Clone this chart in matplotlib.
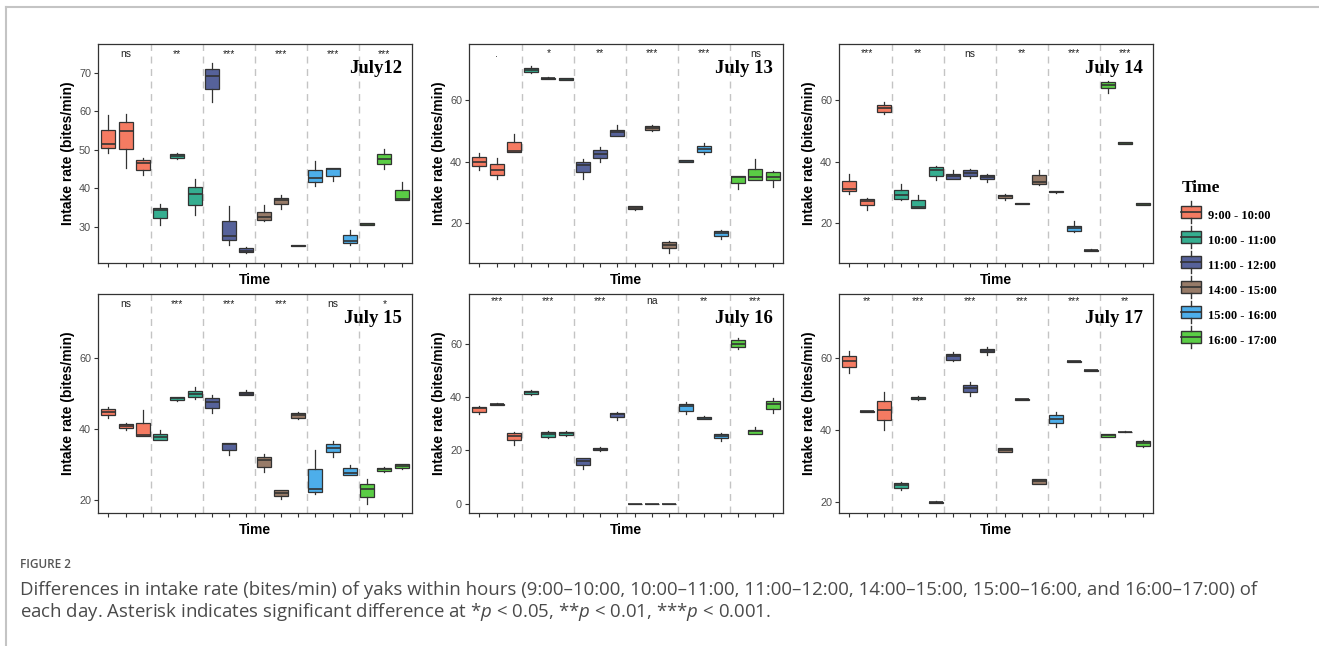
import matplotlib
matplotlib.use("Agg")
import matplotlib.pyplot as plt
from matplotlib.patches import Patch, Rectangle
from matplotlib.lines import Line2D
from matplotlib.legend_handler import HandlerBase

# five-number summaries per box: (whislo, q1, med, q3, whishi)
# 18 boxes per day = 6 hours x 3 yaks
hours = ["9:00 - 10:00", "10:00 - 11:00", "11:00 - 12:00",
         "14:00 - 15:00", "15:00 - 16:00", "16:00 - 17:00"]
colors = ["#F57B62", "#35AE90", "#56629A", "#977B68", "#4DAEEA", "#5ACD45"]

days = ["July12", "July 13", "July 14", "July 15", "July 16", "July 17"]

july12 = [(49.3, 50.4, 51.4, 55.2, 59.0), (45.4, 50.1, 54.9, 57.2, 59.3), (43.5, 44.8, 46.5, 47.3, 48.0),
          (30.4, 32.4, 34.3, 35.0, 35.8), (47.5, 47.9, 48.4, 48.9, 49.3), (33.0, 35.7, 38.5, 40.4, 42.3),
          (62.5, 65.7, 69.3, 71.0, 72.5), (25.4, 26.5, 27.7, 31.5, 35.4), (23.2, 23.4, 23.8, 24.4, 24.7),
          (31.6, 31.9, 32.6, 33.9, 35.6), (34.7, 35.9, 36.9, 37.6, 38.2), (24.9, 25.0, 25.1, 25.2, 25.3),
          (40.7, 41.6, 42.8, 44.8, 47.2), (42.0, 43.3, 45.0, 45.3, 45.4), (25.4, 25.8, 26.4, 28.0, 29.1),
          (30.5, 30.6, 30.8, 30.9, 31.0), (45.1, 46.3, 47.7, 48.9, 50.3), (37.0, 37.0, 37.3, 39.5, 41.6)]
july13 = [(37.4, 38.5, 39.9, 41.5, 42.9), (34.5, 35.7, 37.4, 39.2, 41.3), (43.3, 43.3, 43.5, 46.3, 49.1),
          (68.7, 69.1, 69.8, 70.4, 71.1), (66.8, 66.9, 67.1, 67.3, 67.4), (66.6, 66.7, 67.0, 67.2, 67.3),
          (34.5, 36.6, 39.0, 39.8, 40.7), (39.8, 41.1, 42.5, 43.7, 44.8), (48.4, 48.4, 49.6, 50.2, 51.8),
          (24.2, 24.6, 25.0, 25.5, 25.6), (50.0, 50.4, 51.1, 51.5, 51.8), (10.2, 12.0, 12.8, 13.8, 14.1),
          (39.9, 40.0, 40.2, 40.4, 40.5), (42.4, 43.2, 44.2, 45.0, 46.1), (14.7, 15.8, 16.7, 17.4, 17.8),
          (31.1, 33.0, 35.0, 35.4, 35.4), (34.1, 34.1, 35.0, 37.7, 40.7), (31.7, 34.1, 35.0, 36.7, 37.0)]
july14 = [(29.6, 30.4, 31.2, 33.7, 35.9), (24.3, 25.8, 27.2, 27.8, 28.0), (55.4, 56.2, 57.6, 58.6, 59.5),
          (27.6, 27.9, 29.3, 30.7, 32.8), (25.0, 25.0, 25.2, 27.4, 29.2), (33.9, 35.4, 37.2, 38.2, 38.7),
          (34.5, 34.5, 35.3, 35.9, 37.2), (34.6, 35.4, 36.4, 37.2, 37.7), (33.5, 34.2, 35.0, 35.7, 36.1),
          (27.4, 28.3, 28.8, 29.3, 29.6), (26.1, 26.2, 26.3, 26.5, 26.6), (32.5, 32.8, 33.4, 35.5, 37.2),
          (29.9, 30.0, 30.1, 30.3, 30.4), (17.1, 17.4, 18.5, 19.1, 20.7), (10.8, 10.9, 11.1, 11.3, 11.4),
          (62.5, 64.0, 65.1, 66.0, 66.3), (45.8, 45.9, 46.1, 46.3, 46.4), (25.9, 26.0, 26.2, 26.4, 26.5)]
july15 = [(43.0, 43.9, 44.8, 45.6, 46.1), (39.6, 40.2, 40.9, 41.3, 41.6), (38.1, 38.1, 38.3, 41.8, 45.2),
          (36.9, 36.9, 37.8, 38.7, 39.6), (47.8, 48.0, 48.6, 48.9, 49.0), (48.4, 49.0, 49.9, 50.6, 51.9),
          (44.5, 46.0, 47.6, 48.6, 49.5), (32.8, 34.2, 35.8, 36.0, 36.2), (49.5, 49.5, 49.9, 50.3, 50.8),
          (28.0, 29.4, 31.4, 32.2, 33.1), (20.5, 21.2, 22.2, 22.8, 23.0), (42.8, 43.2, 43.9, 44.6, 44.8),
          (21.9, 22.4, 23.3, 28.7, 34.2), (32.2, 33.6, 34.7, 35.7, 36.6), (27.2, 27.2, 27.8, 29.1, 29.9),
          (19.1, 21.1, 23.3, 24.7, 26.1), (28.0, 28.2, 28.9, 29.2, 29.4), (28.7, 29.0, 29.7, 30.1, 30.3)]
july16 = [(33.5, 34.5, 35.8, 36.4, 36.8), (37.1, 37.2, 37.4, 37.5, 37.6), (22.2, 23.9, 25.5, 26.4, 27.0),
          (40.8, 41.1, 41.8, 42.3, 42.7), (24.5, 25.1, 26.1, 27.0, 27.4), (25.5, 25.7, 26.4, 27.0, 27.4),
          (13.2, 14.5, 16.1, 17.0, 17.2), (19.9, 20.2, 20.7, 21.0, 21.2), (31.5, 32.5, 33.5, 34.2, 34.5),
          (0.0, 0.0, 0.0, 0.0, 0.0), (0.0, 0.0, 0.0, 0.0, 0.0), (0.0, 0.0, 0.0, 0.0, 0.0),
          (33.5, 34.9, 36.8, 37.4, 38.0), (31.6, 31.9, 32.3, 32.6, 33.0), (23.5, 24.5, 25.5, 26.1, 26.4),
          (58.1, 58.9, 59.9, 61.3, 62.1), (26.2, 26.2, 27.4, 27.8, 28.6), (34.0, 35.5, 37.4, 38.5, 39.8)]
july17 = [(55.9, 57.4, 59.2, 60.5, 61.8), (45.0, 45.1, 45.2, 45.3, 45.4), (40.1, 42.7, 45.5, 48.0, 50.6),
          (23.5, 23.9, 24.7, 25.3, 25.6), (48.2, 48.5, 48.9, 49.2, 49.3), (19.8, 19.9, 20.0, 20.1, 20.2),
          (59.0, 59.5, 60.4, 61.0, 61.6), (49.4, 50.4, 51.6, 52.6, 53.4), (60.8, 61.5, 62.0, 62.4, 62.9),
          (33.9, 33.9, 34.5, 34.9, 35.0), (48.2, 48.3, 48.5, 48.6, 48.7), (24.9, 25.1, 25.8, 26.3, 26.5),
          (40.9, 42.0, 43.0, 44.1, 45.1), (58.9, 58.95, 59.0, 59.05, 59.1), (56.4, 56.45, 56.5, 56.55, 56.6),
          (38.1, 38.1, 38.6, 38.9, 39.0), (39.4, 39.45, 39.5, 39.55, 39.6), (35.2, 35.7, 36.3, 36.9, 37.3)]
day_data = [july12, july13, july14, july15, july16, july17]

# significance within each hour
sig12 = ["ns", "**", "***", "***", "***", "***"]
sig13 = [".", "*", "**", "***", "***", "ns"]
sig14 = ["***", "**", "ns", "**", "***", "***"]
sig15 = ["ns", "***", "***", "***", "ns", "*"]
sig16 = ["***", "***", "***", "na", "**", "***"]
sig17 = ["**", "***", "***", "***", "***", "**"]
day_sig = [sig12, sig13, sig14, sig15, sig16, sig17]

yticks = [[30, 40, 50, 60, 70], [20, 40, 60], [20, 40, 60],
          [20, 40, 60], [0, 20, 40, 60], [20, 40, 60]]

# layout
ylims = [(20.6, 77.5), (7.0, 78.3), (7.0, 78.3), (16.5, 77.8), (-3.5, 78.7), (17.0, 77.7)]
sig_y = [74.9, 75.2, 75.2, 75.0, 75.9, 75.7]

plt.rcParams["mathtext.fontset"] = "custom"
plt.rcParams["mathtext.it"] = "Open Sans:italic"
plt.rcParams["mathtext.rm"] = "Open Sans"

W, H = 1319, 646
fig = plt.figure(figsize=(W / 100, H / 100), dpi=100)
lefts = [98, 469, 839]
tops = [44, 294]
aw, ah = 314, 219

sans = "Liberation Sans"
serif = "Liberation Serif"

for k in range(6):
    r, c = divmod(k, 3)
    ax = fig.add_axes([lefts[c] / W, 1 - (tops[r] + ah) / H, aw / W, ah / H])
    stats = [dict(whislo=b[0], q1=b[1], med=b[2], q3=b[3], whishi=b[4], fliers=[])
             for b in day_data[k]]
    bp = ax.bxp(stats, positions=range(1, 19), widths=0.8, patch_artist=True,
                showcaps=False,
                boxprops=dict(edgecolor="#333333", linewidth=0.9),
                whiskerprops=dict(color="#333333", linewidth=0.9),
                medianprops=dict(color="#333333", linewidth=1.2))
    for i, patch in enumerate(bp["boxes"]):
        patch.set_facecolor(colors[i // 3])
    for xs in [3.5, 6.5, 9.5, 12.5, 15.5]:
        ax.axvline(xs, color="#c4c4c4", lw=1.0, ls=(0, (5, 4)), zorder=0)
    for g, s in enumerate(day_sig[k]):
        ax.text(3 * g + 2, sig_y[k], s, ha="center", va="center",
                fontsize=7.5, family=sans, color="#222222")
    ax.text(0.968, 0.866, days[k], transform=ax.transAxes, ha="right",
            va="baseline", family=serif, weight="bold", fontsize=13.5)
    ax.set_xlim(0.4, 18.6)
    ax.set_ylim(*ylims[k])
    ax.set_xticks(range(1, 19))
    ax.set_xticklabels([])
    ax.set_yticks(yticks[k])
    ax.tick_params(axis="both", length=3, width=0.8, color="#333333",
                   labelsize=7.8, labelcolor="#4D4D4D", pad=2)
    for lbl in ax.get_yticklabels():
        lbl.set_family(sans)
    for sp in ax.spines.values():
        sp.set_color("#333333")
        sp.set_linewidth(0.9)
    ax.set_xlabel("Time", family=sans, weight="bold", fontsize=10, labelpad=2)
    ax.set_ylabel("Intake rate (bites/min)", family=sans, weight="bold",
                  fontsize=10, labelpad=3)


class BoxKey(HandlerBase):
    # legend key drawn as a small boxplot glyph
    def create_artists(self, legend, orig, xd, yd, width, height, fontsize, trans):
        fc = orig.get_facecolor()
        bh = height * 1.05
        y0 = yd + (height - bh) / 2
        xm = xd + width / 2
        box = Rectangle((xd, y0), width, bh, facecolor=fc, edgecolor="#333333",
                        lw=1.0, transform=trans)
        med = Line2D([xd, xd + width], [y0 + bh / 2] * 2, color="#333333", lw=1.2,
                     transform=trans)
        wt = Line2D([xm, xm], [y0 + bh, y0 + bh + height * 0.45], color="#333333",
                    lw=1.0, transform=trans)
        wb = Line2D([xm, xm], [y0, y0 - height * 0.45], color="#333333",
                    lw=1.0, transform=trans)
        return [box, med, wt, wb]


handles = [Patch(facecolor=col) for col in colors]
leg = fig.legend(handles, hours, loc="upper left", bbox_to_anchor=(1170 / W, 1 - 169 / H),
                 frameon=False, handler_map={Patch: BoxKey()},
                 prop=dict(family=serif, weight="bold", size=9),
                 title="Time", title_fontproperties=dict(family=serif, weight="bold", size=12.5),
                 alignment="left", handlelength=1.55, handleheight=1.0,
                 handletextpad=0.6, labelspacing=0.98)
leg._legend_box.sep = 9

# caption block
fig.text(20 / W, 1 - 565 / H, "FIGURE 2", family="Open Sans", weight="semibold",
         fontsize=8.5, color="#555555", va="center")
fig.text(20 / W, 1 - 590 / H,
         "Differences in intake rate (bites/min) of yaks within hours (9:00\u201310:00, "
         "10:00\u201311:00, 11:00\u201312:00, 14:00\u201315:00, 15:00\u201316:00, and "
         "16:00\u201317:00) of",
         family="Open Sans", fontsize=13.4, color="#4a4a4a", va="center")
fig.text(20 / W, 1 - 612 / H,
         r"each day. Asterisk indicates significant difference at *$p$ < 0.05, "
         r"**$p$ < 0.01, ***$p$ < 0.001.",
         family="Open Sans", fontsize=13.4, color="#4a4a4a", va="center")

# card frame along top and left
fig.add_artist(Line2D([6 / W, 1], [1 - 7 / H] * 2, color="#c4c4c4", lw=1.5,
                      transform=fig.transFigure))
fig.add_artist(Line2D([6 / W] * 2, [0, 1 - 7 / H], color="#c4c4c4", lw=1.5,
                      transform=fig.transFigure))

fig.savefig("out.png", dpi=100)
